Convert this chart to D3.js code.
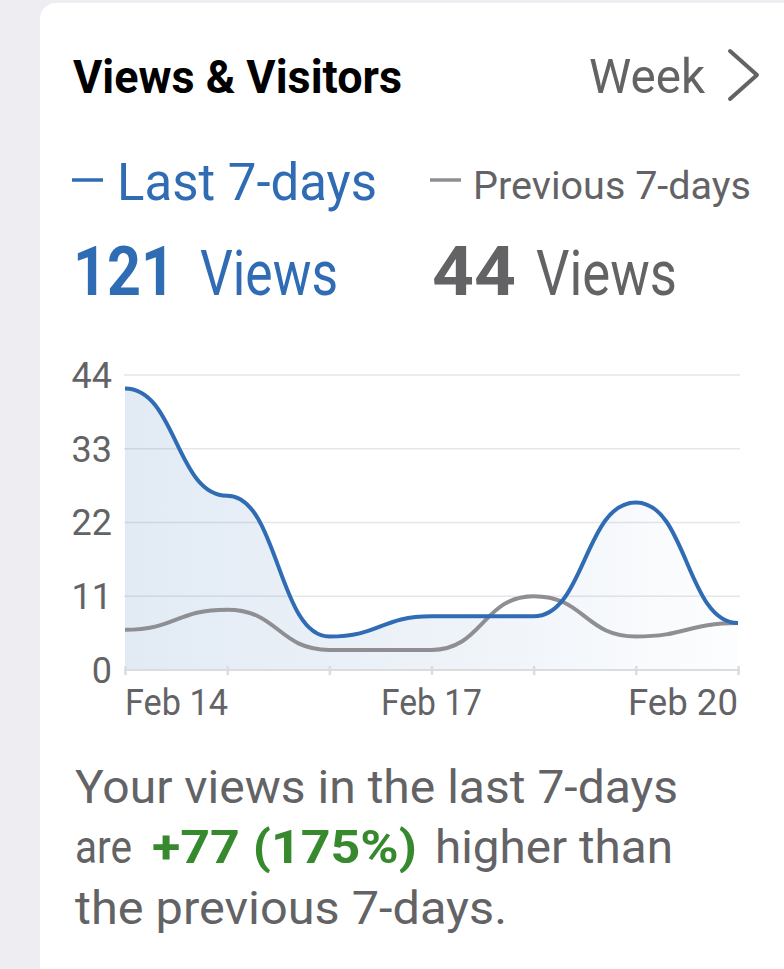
<!DOCTYPE html>
<html>
<head>
<meta charset="utf-8">
<script src="https://cdn.jsdelivr.net/npm/d3@7"></script>
<style>
  html, body { margin: 0; padding: 0; background: #eeeef2; }
  svg { display: block; font-family: Roboto, "Liberation Sans", sans-serif; }
</style>
</head>
<body>
<div id="chart"></div>
<script>
// data
var days = ["Feb 14", "Feb 15", "Feb 16", "Feb 17", "Feb 18", "Feb 19", "Feb 20"];
var lastWeek = [42, 26, 5, 8, 8, 25, 7];
var prevWeek = [6, 9, 3, 3, 11, 5, 7];
var yTicks = [0, 11, 22, 33, 44];
var xLabels = ["Feb 14", "Feb 17", "Feb 20"];

var W = 784, H = 969;
var blue = "#2f6cb3", gray = "#8e8e93", textGray = "#636366", green = "#37892e";

var svg = d3.select("#chart").append("svg")
    .attr("width", W)
    .attr("height", H);

// squeeze text to a given pixel width (screenshot text is narrow)
function fit(sel, w) {
  sel.attr("textLength", w).attr("lengthAdjust", "spacingAndGlyphs");
  return sel;
}

// card
svg.append("rect")
    .attr("x", 40).attr("y", 3)
    .attr("width", W).attr("height", H + 40)
    .attr("rx", 16)
    .attr("fill", "#fff");

/******* HEADER *******/
svg.append("text")
    .attr("x", 73).attr("y", 93)
    .attr("font-size", 46).attr("font-weight", 700)
    .attr("fill", "#000")
    .text("Views & Visitors")
    .call(fit, 329);

svg.append("text")
    .attr("x", 589).attr("y", 93)
    .attr("font-size", 49)
    .attr("fill", textGray)
    .text("Week")
    .call(fit, 116);

svg.append("polyline")
    .attr("points", "730,51 757,75 730,99")
    .attr("fill", "none")
    .attr("stroke", textGray)
    .attr("stroke-width", 4)
    .attr("stroke-linecap", "round")
    .attr("stroke-linejoin", "round");

/******* LEGEND + TOTALS *******/
var total = d3.sum(lastWeek), prevTotal = d3.sum(prevWeek);

svg.append("line")
    .attr("x1", 72).attr("x2", 103).attr("y1", 180).attr("y2", 180)
    .attr("stroke", blue).attr("stroke-width", 3.5);
svg.append("text")
    .attr("x", 117).attr("y", 200)
    .attr("font-size", 51).attr("fill", blue)
    .text("Last 7-days")
    .call(fit, 260);

svg.append("line")
    .attr("x1", 430).attr("x2", 461).attr("y1", 180).attr("y2", 180)
    .attr("stroke", gray).attr("stroke-width", 3.5);
svg.append("text")
    .attr("x", 473).attr("y", 199)
    .attr("font-size", 39).attr("fill", textGray)
    .text("Previous 7-days")
    .call(fit, 278);

svg.append("text")
    .attr("x", 73).attr("y", 295)
    .attr("font-size", 69).attr("font-weight", 700).attr("fill", blue)
    .text(total)
    .call(fit, 102);
svg.append("text")
    .attr("x", 200).attr("y", 295)
    .attr("font-size", 63).attr("fill", blue)
    .text("Views")
    .call(fit, 138);

svg.append("text")
    .attr("x", 432).attr("y", 295)
    .attr("font-size", 69).attr("font-weight", 700).attr("fill", textGray)
    .text(prevTotal)
    .call(fit, 84);
svg.append("text")
    .attr("x", 536).attr("y", 295)
    .attr("font-size", 63).attr("fill", textGray)
    .text("Views")
    .call(fit, 141);

/******* LINE CHART *******/
var x = d3.scalePoint()
    .domain(days)
    .range([125, 738]);

var y = d3.scaleLinear()
    .domain([0, 44])
    .range([670, 375]);

var defs = svg.append("defs");
var grad = defs.append("linearGradient")
    .attr("id", "fillGrad")
    .attr("x1", "0%").attr("x2", "100%")
    .attr("y1", "0%").attr("y2", "0%");
grad.append("stop").attr("offset", "0%").attr("stop-color", blue).attr("stop-opacity", 0.14);
grad.append("stop").attr("offset", "55%").attr("stop-color", blue).attr("stop-opacity", 0.08);
grad.append("stop").attr("offset", "100%").attr("stop-color", blue).attr("stop-opacity", 0.01);

// gridlines
svg.append("g")
    .selectAll("line")
    .data(yTicks.filter(function(d) { return d > 0; }))
    .enter().append("line")
    .attr("x1", 124).attr("x2", 740)
    .attr("y1", function(d) { return y(d); })
    .attr("y2", function(d) { return y(d); })
    .attr("stroke", "#e6e6e9")
    .attr("stroke-width", 1.5);

// y labels
svg.append("g")
    .selectAll("text")
    .data(yTicks)
    .enter().append("text")
    .attr("x", 112)
    .attr("y", function(d) { return y(d); })
    .attr("dy", "0.36em")
    .attr("text-anchor", "end")
    .attr("font-size", 36)
    .attr("fill", textGray)
    .text(function(d) { return d; });

// area under last 7 days
var area = d3.area()
    .x(function(d, i) { return x(days[i]); })
    .y0(y(0))
    .y1(function(d) { return y(d); })
    .curve(d3.curveBumpX);

svg.append("path")
    .datum(lastWeek)
    .attr("d", area)
    .attr("fill", "url(#fillGrad)");

// x axis
svg.append("line")
    .attr("x1", 124).attr("x2", 740)
    .attr("y1", y(0)).attr("y2", y(0))
    .attr("stroke", "#dcdcdf")
    .attr("stroke-width", 2);

var xAxis = d3.axisBottom(x)
    .tickSize(9)
    .tickFormat("");

svg.append("g")
    .attr("transform", "translate(0," + (y(0) - 4) + ")")
    .call(xAxis)
    .call(function(g) { g.select(".domain").remove(); })
    .selectAll(".tick line")
    .attr("stroke", "#dcdcdf")
    .attr("stroke-width", 2.5);

var line = d3.line()
    .x(function(d, i) { return x(days[i]); })
    .y(function(d) { return y(d); })
    .curve(d3.curveBumpX);

svg.append("path")
    .datum(prevWeek)
    .attr("d", line)
    .attr("fill", "none")
    .attr("stroke", gray)
    .attr("stroke-width", 4);

svg.append("path")
    .datum(lastWeek)
    .attr("d", line)
    .attr("fill", "none")
    .attr("stroke", blue)
    .attr("stroke-width", 4);

// x labels: first left, middle centred, last right
var labelWidths = [103, 101, 110];
svg.append("g")
    .selectAll("text")
    .data(xLabels)
    .enter().append("text")
    .attr("x", function(d) { return x(d); })
    .attr("y", 715)
    .attr("text-anchor", function(d, i) { return i === 0 ? "start" : (i === xLabels.length - 1 ? "end" : "middle"); })
    .attr("font-size", 36)
    .attr("fill", textGray)
    .attr("textLength", function(d, i) { return labelWidths[i]; })
    .attr("lengthAdjust", "spacingAndGlyphs")
    .text(function(d) { return d; });

/******* SUMMARY *******/
var diff = total - prevTotal;
var pct = Math.round(diff / prevTotal * 100);

svg.append("text")
    .attr("x", 75).attr("y", 803)
    .attr("font-size", 46).attr("fill", textGray)
    .text("Your views in the last 7-days")
    .call(fit, 603);

svg.append("text")
    .attr("x", 75).attr("y", 863)
    .attr("font-size", 46).attr("fill", textGray)
    .text("are")
    .call(fit, 57);
svg.append("text")
    .attr("x", 152).attr("y", 863)
    .attr("font-size", 46).attr("font-weight", 700).attr("fill", green)
    .text("+" + diff + " (" + pct + "%)")
    .call(fit, 265);
svg.append("text")
    .attr("x", 435).attr("y", 863)
    .attr("font-size", 46).attr("fill", textGray)
    .text("higher than")
    .call(fit, 238);

svg.append("text")
    .attr("x", 75).attr("y", 924)
    .attr("font-size", 46).attr("fill", textGray)
    .text("the previous 7-days.")
    .call(fit, 432);
</script>
</body>
</html>
